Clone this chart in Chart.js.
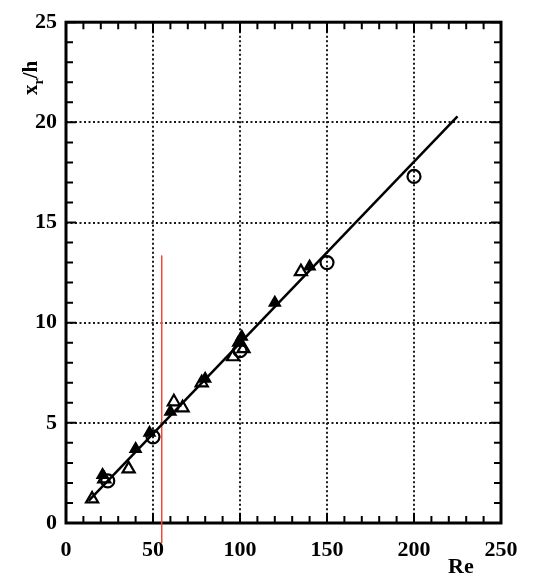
<!DOCTYPE html>
<html>
<head>
<meta charset="utf-8">
<script src="https://cdn.jsdelivr.net/npm/chart.js@4.4.0/dist/chart.umd.min.js"></script>
<style>
  html, body { margin: 0; padding: 0; background: #fff; }
  #wrap { width: 548px; height: 583px; }
</style>
</head>
<body>
<div id="wrap"><canvas id="myChart"></canvas></div>
<script>
// values (Re vs x_r/h)
const circleRe = [24, 50, 100, 150, 200];
const circleXr = [2.1, 4.3, 8.6, 13.0, 17.3];
const openTriRe = [15, 22, 36, 62, 67, 78, 96, 102, 135];
const openTriXr = [1.2, 2.2, 2.7, 6.05, 5.75, 7.0, 8.3, 8.7, 12.55];
const fillTriRe = [21, 40, 48, 60, 80, 99, 101, 120, 140];
const fillTriXr = [2.4, 3.7, 4.5, 5.55, 7.2, 9.0, 9.3, 11.0, 12.8];
const fitRe = [13, 225];
const fitXr = [1.1, 20.3];
const markRe = [55, 55];
const markXr = [13.35, -1.0];
const reTicks = [0, 50, 100, 150, 200, 250];
const xrTicks = [0, 5, 10, 15, 20, 25];

const pts = (xs, ys) => xs.map((v, i) => ({ x: v, y: ys[i] }));
const serif = 'Liberation Serif';

// frame, inward ticks and axis names
const frame = {
  id: 'frame',
  beforeDatasetsDraw(chart) {
    const { ctx, chartArea: a, scales: { x, y } } = chart;
    ctx.save();
    ctx.strokeStyle = '#000';
    ctx.lineWidth = 2;
    ctx.beginPath();
    for (let v = 0; v <= 250; v += 10) {
      const px = x.getPixelForValue(v);
      const len = v % 50 === 0 ? 10 : 7;
      ctx.moveTo(px, a.bottom); ctx.lineTo(px, a.bottom - len);
      ctx.moveTo(px, a.top); ctx.lineTo(px, a.top + len);
    }
    for (let v = 0; v <= 25; v += 1) {
      const py = y.getPixelForValue(v);
      const len = v % 5 === 0 ? 10 : 7;
      ctx.moveTo(a.left, py); ctx.lineTo(a.left + len, py);
      ctx.moveTo(a.right, py); ctx.lineTo(a.right - len, py);
    }
    ctx.stroke();
    ctx.lineWidth = 3;
    ctx.strokeRect(a.left, a.top, a.width, a.height);
    ctx.restore();
  },
  afterDraw(chart) {
    const { ctx } = chart;
    ctx.save();
    ctx.fillStyle = '#000';
    ctx.font = 'bold 22px ' + serif;
    ctx.textBaseline = 'middle';
    ctx.textAlign = 'left';
    ctx.fillText('Re', 448, 567);
    // rotated y name x_r/h
    ctx.translate(37, 95);
    ctx.rotate(-Math.PI / 2);
    ctx.font = 'bold 21px ' + serif;
    ctx.textBaseline = 'alphabetic';
    ctx.fillText('x', 0, 0);
    let w = ctx.measureText('x').width;
    ctx.font = 'bold 14px ' + serif;
    ctx.fillText('r', w, 6);
    w += ctx.measureText('r').width;
    ctx.font = 'bold 21px ' + serif;
    ctx.fillText('/h', w, 0);
    ctx.restore();
  }
};

const ctx = document.getElementById('myChart').getContext('2d');
const myChart = new Chart(ctx, {
  type: 'scatter',
  data: {
    datasets: [
      {
        label: 'fit',
        type: 'line',
        data: pts(fitRe, fitXr),
        borderColor: '#000',
        borderWidth: 2.5,
        pointRadius: 0,
        fill: false
      },
      {
        label: 'circles',
        data: pts(circleRe, circleXr),
        pointStyle: 'circle',
        pointRadius: 6.5,
        borderColor: '#000',
        borderWidth: 2.2,
        backgroundColor: 'rgba(255,255,255,0)'
      },
      {
        label: 'open triangles',
        data: pts(openTriRe, openTriXr),
        pointStyle: 'triangle',
        pointRadius: 7,
        borderColor: '#000',
        borderWidth: 2.2,
        backgroundColor: 'rgba(255,255,255,0)'
      },
      {
        label: 'filled triangles',
        data: pts(fillTriRe, fillTriXr),
        pointStyle: 'triangle',
        pointRadius: 6.5,
        borderColor: '#000',
        borderWidth: 1.5,
        backgroundColor: '#000'
      },
      {
        label: 'marker',
        type: 'line',
        data: pts(markRe, markXr),
        borderColor: 'rgb(242,72,50)',
        borderWidth: 1,
        pointRadius: 0,
        clip: false,
        fill: false
      }
    ]
  },
  options: {
    responsive: true,
    maintainAspectRatio: false,
    animation: false,
    layout: { padding: { top: 16, right: 47, left: 0, bottom: 0 } },
    plugins: { legend: { display: false }, tooltip: { enabled: false } },
    scales: {
      x: {
        type: 'linear',
        min: 0,
        max: 250,
        afterFit: s => { s.height = 60; },
        afterBuildTicks: s => { s.ticks = reTicks.map(v => ({ value: v })); },
        ticks: { color: '#000', padding: 14, font: { family: serif, weight: 'bold', size: 22 } },
        grid: { color: '#1a1a1a', lineWidth: 2, drawTicks: false },
        border: { display: false, dash: [2, 2.5] }
      },
      y: {
        type: 'linear',
        min: 0,
        max: 25,
        afterFit: s => { s.width = 66; },
        afterBuildTicks: s => { s.ticks = xrTicks.map(v => ({ value: v })); },
        ticks: { color: '#000', padding: 9, font: { family: serif, weight: 'bold', size: 22 } },
        grid: { color: '#1a1a1a', lineWidth: 2, drawTicks: false },
        border: { display: false, dash: [2, 2.5] }
      }
    }
  },
  plugins: [frame]
});
</script>
</body>
</html>
